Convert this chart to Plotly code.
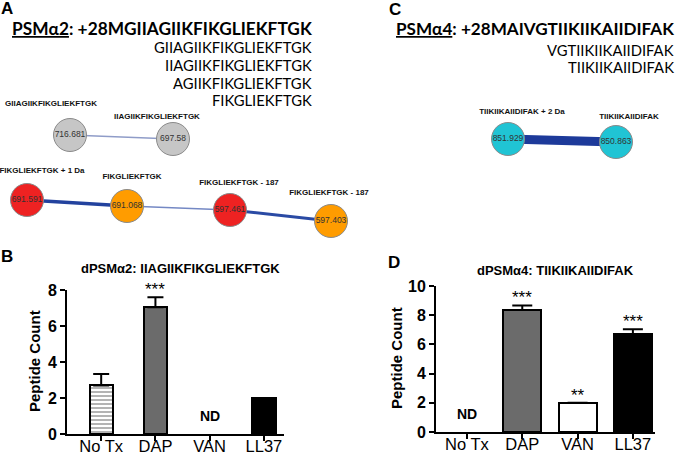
import plotly.graph_objects as go

W, H = 680, 455

# ---------------- data ----------------
categories = ["No Tx", "DAP", "VAN", "LL37"]
b_counts = [2.7, 7.04, None, 2.0]
b_err = [0.64, 0.56, None, 0.0]
b_marks = ["", "***", "ND", ""]
d_counts = [None, 8.35, 2.0, 6.7]
d_err = [None, 0.32, 0.0, 0.33]
d_marks = ["ND", "***", "**", "***"]

b_title = "dPSMα2: IIAGIIKFIKGLIEKFTGK"
d_title = "dPSMα4: TIIKIIKAIIDIFAK"

a_header = "<u>PSMα2</u>: +28MGIIAGIIKFIKGLIEKFTGK"
a_fragments = ["GIIAGIIKFIKGLIEKFTGK", "IIAGIIKFIKGLIEKFTGK", "AGIIKFIKGLIEKFTGK", "FIKGLIEKFTGK"]
c_header = "<u>PSMα4</u>: +28MAIVGTIIKIIKAIIDIFAK"
c_fragments = ["VGTIIKIIKAIIDIFAK", "TIIKIIKAIIDIFAK"]

# network nodes (mass values), names, layout positions (px)
net_mass = ["716.681", "697.58", "691.591", "691.068", "597.461", "597.403", "851.929", "850.863"]
net_names = ["GIIAGIIKFIKGLIEKFTGK", "IIAGIIKFIKGLIEKFTGK", "FIKGLIEKFTGK + 1 Da", "FIKGLIEKFTGK",
             "FIKGLIEKFTGK - 187", "FIKGLIEKFTGK - 187", "TIIKIIKAIIDIFAK + 2 Da", "TIIKIIKAIIDIFAK"]
net_x = [70, 173, 27, 127, 230, 331, 508, 616]
net_y = [135, 139, 200, 206, 210, 221, 139, 142]
net_name_x = [51, 157, 42, 132, 239, 329, 522, 629]
net_name_y = [104, 117, 171, 177, 183, 193, 112, 117]
net_colors = ["#c6c6c6", "#c6c6c6", "#ee2222", "#ff9c00", "#ee2222", "#ff9c00", "#20c4d4", "#20c4d4"]
edges = [(0, 1), (2, 3), (3, 4), (4, 5), (6, 7)]
edge_width = [1.5, 3.5, 1.5, 3.0, 9.0]
edge_color = ["#8f9cc8", "#23429e", "#7488c4", "#2a4aa4", "#1d3a9a"]

# ---------------- helpers ----------------
def px(x):
    return x / W

def py(y):
    return 1 - y / H

ARIAL = "Liberation Sans"
HDR = "Lato"

fig = go.Figure()

# ---- bar panels ----
for counts, errs, width, cap, xa, ya, pat in [
    (b_counts, b_err, 0.43, 8, "x", "y", ["-", "", "", ""]),
    (d_counts, d_err, 0.69, 10, "x2", "y2", ["", "", "", ""]),
]:
    fills = ["#ffffff", "#6b6b6b", "#ffffff", "#000000"]
    fig.add_trace(go.Bar(
        x=list(range(len(categories))), y=counts, width=width,
        marker=dict(color=fills, line=dict(color="black", width=2),
                    pattern=dict(shape=pat, fgcolor="#222222", bgcolor="white", size=4,
                                 solidity=0.4, fillmode="overlay")),
        error_y=dict(type="data", array=[e if e else 0 for e in errs], arrayminus=[0] * 4,
                     symmetric=False, color="black", thickness=2, width=cap, visible=True),
        xaxis=xa, yaxis=ya, showlegend=False, hoverinfo="skip",
    ))

# ---- network overlay ----
for (i, j), w, c in zip(edges, edge_width, edge_color):
    fig.add_trace(go.Scatter(
        x=[net_x[i], net_x[j]], y=[net_y[i], net_y[j]], mode="lines",
        line=dict(color=c, width=w), xaxis="x3", yaxis="y3", showlegend=False, hoverinfo="skip"))

fig.add_trace(go.Scatter(
    x=net_x, y=net_y, mode="markers+text", text=net_mass, textposition="middle center",
    textfont=dict(family=ARIAL, size=8.5, color="#333333"),
    marker=dict(size=33, color=net_colors, line=dict(color="#8a8a8a", width=1)),
    xaxis="x3", yaxis="y3", showlegend=False, hoverinfo="skip"))

fig.add_trace(go.Scatter(
    x=net_name_x, y=net_name_y, mode="text", text=[f"<b>{t}</b>" for t in net_names],
    textposition="middle center", textfont=dict(family=ARIAL, size=8, color="#111111"),
    xaxis="x3", yaxis="y3", showlegend=False, hoverinfo="skip"))

ann = []
# panel letters
for letter, x, y in [("A", 7, 8), ("B", 7, 256), ("C", 395, 9), ("D", 394, 262)]:
    ann.append(dict(x=px(x), y=py(y), xref="paper", yref="paper", text=f"<b>{letter}</b>",
                    showarrow=False, xanchor="center", yanchor="middle",
                    font=dict(family=ARIAL, size=17, color="black")))

# headers
ann.append(dict(x=px(313), y=py(29), xref="paper", yref="paper", text=f"<b>{a_header}</b>",
                showarrow=False, xanchor="right", yanchor="middle", borderpad=0,
                font=dict(family=HDR, size=17.3, color="black")))
for t, y in zip(a_fragments, [47.5, 65, 82.5, 100]):
    ann.append(dict(x=px(313), y=py(y), xref="paper", yref="paper", text=t, showarrow=False, borderpad=0,
                    xanchor="right", yanchor="middle", font=dict(family=HDR, size=14.8, color="black")))
ann.append(dict(x=px(675), y=py(29), xref="paper", yref="paper", text=f"<b>{c_header}</b>",
                showarrow=False, xanchor="right", yanchor="middle", borderpad=0,
                font=dict(family=HDR, size=17.1, color="black")))
for t, y in zip(c_fragments, [49.5, 67]):
    ann.append(dict(x=px(675), y=py(y), xref="paper", yref="paper", text=t, showarrow=False, borderpad=0,
                    xanchor="right", yanchor="middle", font=dict(family=HDR, size=14.8, color="black")))

# bar titles & y titles
for t, x, y in [(b_title, 180, 268), (d_title, 555, 270)]:
    ann.append(dict(x=px(x), y=py(y), xref="paper", yref="paper", text=f"<b>{t}</b>",
                    showarrow=False, xanchor="center", yanchor="middle",
                    font=dict(family=ARIAL, size=13, color="black")))
for x, y in [(34, 361), (396, 358)]:
    ann.append(dict(x=px(x), y=py(y), xref="paper", yref="paper", text="<b>Peptide Count</b>",
                    showarrow=False, textangle=-90, xanchor="center", yanchor="middle",
                    font=dict(family=ARIAL, size=15, color="black")))

# significance marks
for marks, counts, errs, xr, yr in [(b_marks, b_counts, b_err, "x", "y"), (d_marks, d_counts, d_err, "x2", "y2")]:
    for i, m in enumerate(marks):
        if not m:
            continue
        if m == "ND":
            ann.append(dict(x=i, y=0, xref=xr, yref=yr, text="<b>ND</b>", showarrow=False,
                            yanchor="bottom", yshift=8, font=dict(family=ARIAL, size=14, color="black")))
        else:
            top = (counts[i] or 0) + (errs[i] or 0)
            ann.append(dict(x=i, y=top, xref=xr, yref=yr, text=m, showarrow=False,
                            yanchor="bottom", yshift=-4, font=dict(family=ARIAL, size=17, color="black")))

axis_common = dict(showline=True, linecolor="black", linewidth=2, ticks="outside", automargin=False,
                   ticklen=5, tickwidth=2, tickcolor="black", showgrid=False, zeroline=False)

fig.update_layout(
    template="none",
    width=W, height=H, margin=dict(l=0, r=0, t=0, b=0),
    paper_bgcolor="white", plot_bgcolor="rgba(0,0,0,0)",
    annotations=ann, bargap=0,
    xaxis=dict(domain=[px(67), px(284)], range=[-0.63, 3.37], tickvals=list(range(4)), ticktext=categories,
               ticklabelstandoff=-9,
               tickfont=dict(family=ARIAL, size=16.5, color="black"), anchor="y", fixedrange=True, **axis_common),
    yaxis=dict(domain=[py(434), py(290)], range=[0, 8], dtick=2, anchor="x",
               tickfont=dict(family=ARIAL, size=16, color="black", weight="bold"), fixedrange=True, **axis_common),
    xaxis2=dict(domain=[px(436), px(655)], range=[-0.56, 3.4], tickvals=list(range(4)), ticktext=categories,
                ticklabelstandoff=-9,
                tickfont=dict(family=ARIAL, size=16.5, color="black"), anchor="y2", fixedrange=True, **axis_common),
    yaxis2=dict(domain=[py(432), py(286)], range=[0, 10], dtick=2, anchor="x2",
                tickfont=dict(family=ARIAL, size=16, color="black", weight="bold"), fixedrange=True, **axis_common),
    xaxis3=dict(domain=[0, 1], range=[0, W], visible=False, anchor="y3", fixedrange=True, automargin=False),
    yaxis3=dict(domain=[0, 1], range=[H, 0], visible=False, anchor="x3", fixedrange=True, automargin=False),
)

fig.write_html("out.html", config={"displayModeBar": False},
               post_script="document.body.style.margin='0';document.body.style.padding='0';")
